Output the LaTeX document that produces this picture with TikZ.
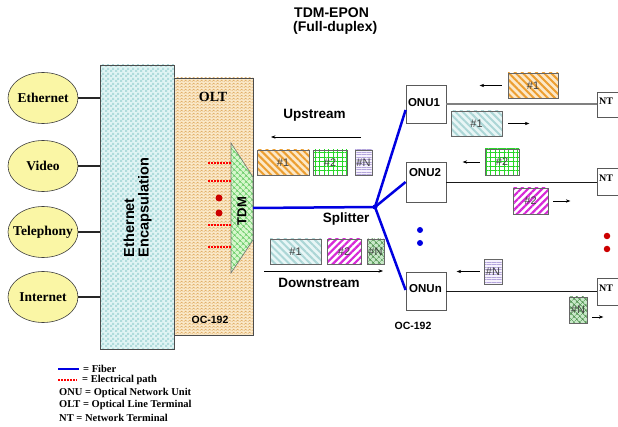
\documentclass[tikz,border=0pt]{standalone}
\usepackage{fontspec}
\setmainfont{Liberation Sans}
\newfontfamily\serifb{Liberation Serif}
\usetikzlibrary{shapes.geometric,patterns,patterns.meta,arrows.meta}
\newcommand\myfs[1]{\fontsize{#1}{#1}\selectfont}
\definecolor{ellfill}{RGB}{250,246,165}
\definecolor{encfill}{RGB}{224,244,244}
\definecolor{encchk}{RGB}{176,220,220}
\definecolor{oltfill}{RGB}{250,232,200}
\definecolor{oltwave}{RGB}{222,170,95}
\definecolor{tdmfill}{RGB}{215,247,205}
\definecolor{tdmhatch}{RGB}{95,200,95}
\definecolor{fiber}{RGB}{0,0,225}
\definecolor{orbg}{RGB}{252,232,200}
\definecolor{orln}{RGB}{236,158,48}
\definecolor{cybg}{RGB}{232,246,246}
\definecolor{cyln}{RGB}{172,214,214}
\definecolor{mgbg}{RGB}{248,210,248}
\definecolor{mgln}{RGB}{215,40,215}
\definecolor{grln}{RGB}{40,215,40}
\definecolor{lvbg}{RGB}{246,242,252}
\definecolor{lvln}{RGB}{180,165,220}
\definecolor{dgbg}{RGB}{200,232,200}
\definecolor{dgln}{RGB}{70,140,70}
\tikzdeclarepattern{
  name=smallchecker,
  type=uncolored,
  bottom left={(0pt,0pt)},
  top right={(5pt,5pt)},
  tile size={(5pt,5pt)},
  code={\fill (0pt,0pt) rectangle (2.5pt,2.5pt); \fill (2.5pt,2.5pt) rectangle (5pt,5pt);}
}
\tikzdeclarepattern{
  name=wavy,
  type=uncolored,
  bottom left={(0pt,0pt)},
  top right={(4pt,3pt)},
  tile size={(4pt,3pt)},
  code={\draw[line width=0.55pt] (0pt,0.5pt) -- (2pt,2.5pt) -- (4pt,0.5pt);}
}
\tikzset{
  ellbox/.style={ellipse, draw=black!75, line width=0.6pt, fill=ellfill, minimum width=70pt, minimum height=51pt, inner sep=0pt},
  elltext/.style={font=\serifb\bfseries\myfs{13.5}},
  wire/.style={line width=1.4pt, black!85},
  fiberl/.style={line width=2.5pt, fiber},
  elec/.style={red, line width=1.6pt, dash pattern=on 1.6pt off 1.4pt},
  onubox/.style={draw=black!65, line width=0.8pt, fill=white, minimum width=40pt, minimum height=38pt, inner sep=0pt},
  ntbox/.style={draw=black!65, line width=0.8pt, fill=white, minimum width=40pt, inner sep=0pt},
  pkt/.style={draw=black!60, line width=0.7pt, minimum height=25pt, inner sep=0pt, font=\myfs{11}, text=black!75},
  orpk/.style={pkt, preaction={fill=orbg}, pattern={Lines[angle=-45,distance=5pt,line width=2pt]}, pattern color=orln},
  cypk/.style={pkt, preaction={fill=cybg}, pattern={Lines[angle=-45,distance=5pt,line width=2pt]}, pattern color=cyln},
  mgpk/.style={pkt, preaction={fill=white}, pattern={Lines[angle=45,distance=5pt,line width=2.2pt]}, pattern color=mgln},
  grpk/.style={pkt, preaction={fill=white}, pattern={Hatch[angle=0,distance=4.5pt,line width=0.8pt]}, pattern color=grln},
  lvpk/.style={pkt, preaction={fill=lvbg}, pattern={Lines[angle=0,distance=2.5pt,line width=0.6pt]}, pattern color=lvln},
  dgpk/.style={pkt, preaction={fill=dgbg}, pattern={Hatch[angle=45,distance=4pt,line width=0.6pt]}, pattern color=dgln},
  flow/.style={line width=0.7pt, black, -{Stealth[length=4.5pt,width=3.4pt]}},
  sanslab/.style={font=\bfseries\myfs{13.5}, inner sep=0pt},
  onulab/.style={font=\bfseries\myfs{11.5}, inner sep=0pt},
  smalllab/.style={font=\bfseries\myfs{10.5}, inner sep=0pt},
  ntlab/.style={font=\serifb\bfseries\myfs{10}, inner sep=0pt, anchor=west},
  legend/.style={font=\serifb\bfseries\myfs{10.5}, anchor=west, inner sep=0pt},
  reddot/.style={circle, fill=red!80!black, minimum size=7pt, inner sep=0pt},
  bluedot/.style={circle, fill=fiber, minimum size=6pt, inner sep=0pt}
}
\begin{document}
\begin{tikzpicture}[x=1pt,y=-1pt]
\useasboundingbox (0,0) rectangle (618,427);
\fill[white] (0,0) rectangle (618,427);

% title
\node[font=\bfseries\myfs{14}, anchor=base west, inner sep=0pt] (t1) at (294,18) {TDM-EPON};
\node[font=\bfseries\myfs{14}, anchor=base west, inner sep=0pt] (t2) at (293,32) {(Full-duplex)};

% encapsulation and OLT
\node[draw=black!70, line width=0.7pt, minimum width=74pt, minimum height=284pt, inner sep=0pt,
      preaction={fill=encfill}, pattern=smallchecker, pattern color=encchk] (enc) at (137,207) {};
\node[draw=black!70, line width=0.7pt, minimum width=79pt, minimum height=257pt, inner sep=0pt,
      preaction={fill=oltfill}, pattern=wavy, pattern color=oltwave] (olt) at (213.5,206.5) {};
\node[rotate=90, align=left, font=\bfseries\myfs{14.5}, inner sep=0pt] (enctext) at (137.5,207.5)
  {\fontsize{14.5}{17}\selectfont Ethernet\\Encapsulation};
\node[font=\serifb\bfseries\myfs{14}, inner sep=0pt] (oltlab) at (213,97) {OLT};
\node[smalllab] (oc1) at (210,320) {OC-192};

% service ellipses
\node[ellbox, label={[elltext]center:Ethernet}] (eth) at (43,98) {};
\node[ellbox, label={[elltext]center:Video}] (vid) at (43,166) {};
\node[ellbox, label={[elltext]center:Telephony}] (tel) at (43,232) {};
\node[ellbox, label={[elltext]center:Internet}] (inet) at (43,297) {};
\foreach \e in {eth,vid,tel,inet}{
  \draw[wire] (\e.east) -- (\e.east -| enc.west);
}

% TDM
\coordinate (tdmtl) at (231,143);
\coordinate (tdmtr) at (253,177);
\coordinate (tdmbr) at (253,240);
\coordinate (tdmbl) at (231,273);
\coordinate (tdmR) at (253,208);
\path[draw=black!55, line width=0.6pt, preaction={fill=tdmfill}, pattern={Hatch[angle=45,distance=4pt,line width=0.6pt]}, pattern color=tdmhatch]
  (tdmtl) -- (tdmtr) -- (tdmbr) -- (tdmbl) -- cycle;
\node[rotate=90, font=\bfseries\myfs{13}, inner sep=0pt] (tdmlab) at (242,211) {TDM};

% electrical paths
\foreach \yy in {163,181,225,247}{
  \draw[elec] (208,\yy) -- (231,\yy);
}
\node[reddot] (rd1) at (219,198) {};
\node[reddot] (rd2) at (219,213) {};

% ONUs and NTs
\node[onubox] (onu1) at (426,104) {};
\node[onubox, minimum height=40pt] (onu2) at (426,182) {};
\node[onubox] (onun) at (426,291) {};
\node[onulab] at (424,103) {ONU1};
\node[onulab] at (425,173) {ONU2};
\node[onulab] at (425.5,289) {ONUn};
\node[smalllab] (oc2) at (413,326) {OC-192};

\node[ntbox, minimum height=25pt] (nt1) at (617,104.5) {};
\node[ntbox, minimum height=27pt] (nt2) at (617,181.5) {};
\node[ntbox, minimum height=27pt] (ntn) at (617,291.5) {};
\node[ntlab] at (599,101) {NT};
\node[ntlab] at (599,178) {NT};
\node[ntlab] at (599,288) {NT};

\draw[line width=1.3pt, black!50] (onu1.east) -- (onu1.east -| nt1.west);
\draw[line width=0.8pt, black!90] (onu2.east) -- (onu2.east -| nt2.west);
\draw[line width=0.8pt, black!90] (onun.east) -- (onun.east -| ntn.west);

% fiber and splitter
\node[circle, fill=fiber, minimum size=5pt, inner sep=0pt] (split) at (375,207) {};
\draw[fiberl] (tdmR) -- (split.center);
\draw[fiberl] (split.center) -- ([yshift=-6pt]onu1.west);
\draw[fiberl] (split.center) -- (onu2.west);
\draw[fiberl] (split.center) -- ([yshift=1pt]onun.west);
\node[sanslab] (splab) at (346,219) {Splitter};

% upstream / downstream between OLT and splitter
\node[sanslab] (uplab) at (314.5,115) {Upstream};
\coordinate (upA) at (361,137);
\coordinate (upB) at (271,137);
\draw[flow] (upA) -- (upB);
\node[orpk, minimum width=52pt] (up1) at (283,162.5) {\#1};
\node[grpk, minimum width=34pt] (up2) at (330,162.5) {\#2};
\node[lvpk, minimum width=17pt] (upn) at (363.5,162.5) {\#N};

\node[cypk, minimum width=51pt] (dn1) at (295.5,251.5) {\#1};
\node[mgpk, minimum width=34pt] (dn2) at (344,251.5) {\#2};
\node[dgpk, minimum width=17pt] (dnn) at (375.5,251.5) {\#N};
\coordinate (dnA) at (264,271);
\coordinate (dnB) at (383,271);
\draw[flow] (dnA) -- (dnB);
\node[sanslab] (dnlab) at (319,283) {Downstream};

% packets near ONUs
\node[orpk, minimum width=50pt] (r1u) at (533,85.5) {\#1};
\draw[flow] ([xshift=-6pt]r1u.west) -- ++(-22,0);
\node[cypk, minimum width=51pt] (r1d) at (476.5,123.5) {\#1};
\draw[flow] ([xshift=6pt]r1d.east) -- ++(21,0);
\node[grpk, minimum width=34pt, minimum height=26pt] (r2u) at (502,162) {\#2};
\draw[flow] ([xshift=-5pt]r2u.west) -- ++(-17,0);
\node[mgpk, minimum width=35pt, minimum height=26pt] (r2d) at (530.5,201) {\#2};
\draw[flow] ([xshift=5pt]r2d.east) -- ++(17,0);
\node[lvpk, minimum width=18pt] (rnu) at (493,271.5) {\#N};
\draw[flow] ([xshift=-4pt]rnu.west) -- ++(-23,0);
\node[dgpk, minimum width=18pt, minimum height=26pt] (rnd) at (578,310) {\#N};
\draw[flow] ([xshift=5pt,yshift=-7pt]rnd.east) -- ++(11,0);

% dots
\node[bluedot] (bd1) at (420,230) {};
\node[bluedot] (bd2) at (420,243) {};
\node[reddot, minimum size=6.5pt] (rd3) at (607,236) {};
\node[reddot, minimum size=6.5pt] (rd4) at (607,249) {};

% legend
\coordinate (lgf1) at (58,369);
\coordinate (lgf2) at (79,369);
\draw[fiberl, line width=2.6pt] (lgf1) -- (lgf2);
\node[legend] (lg1) at (83,369) {= Fiber};
\coordinate (lge1) at (58,380);
\coordinate (lge2) at (77,380);
\draw[elec, line width=1.4pt] (lge1) -- (lge2);
\node[legend] (lg2) at (82,380) {= Electrical path};
\node[legend] (lg3) at (59,393) {ONU = Optical Network Unit};
\node[legend] (lg4) at (59,405) {OLT = Optical Line Terminal};
\node[legend] (lg5) at (59,418) {NT = Network Terminal};
\end{tikzpicture}
\end{document}
